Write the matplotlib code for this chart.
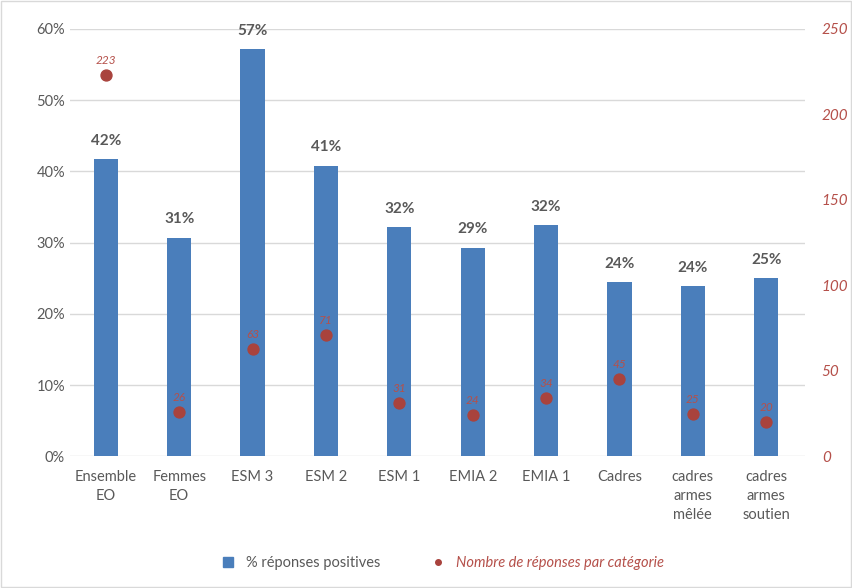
import numpy as np
import matplotlib
matplotlib.use("Agg")
from matplotlib import pyplot as plt
from matplotlib.lines import Line2D
from matplotlib.patches import Rectangle

plt.rcParams['font.family'] = ['Lato', 'DejaVu Sans']

# data
categories = ["Ensemble\nEO", "Femmes\nEO", "ESM 3", "ESM 2", "ESM 1", "EMIA 2",
              "EMIA 1", "Cadres", "cadres\narmes\nmêlée", "cadres\narmes\nsoutien"]
pct = [41.7, 30.7, 57.1, 40.8, 32.2, 29.3, 32.4, 24.4, 23.9, 25.0]
pct_labels = ["42%", "31%", "57%", "41%", "32%", "29%", "32%", "24%", "24%", "25%"]
counts = [223, 26, 63, 71, 31, 24, 34, 45, 25, 20]

bar_col = "#4A7EBB"
pt_col = "#A9433D"
red_txt = "#B5504A"
gray_txt = "#595959"

fig = plt.figure(figsize=(8.52, 5.88), dpi=100)
ax = fig.add_axes([0.082, 0.224, 0.863, 0.727])
x = np.arange(len(categories))

ax.bar(x, pct, width=0.33, color=bar_col, zorder=2)
for xi, v, lab in zip(x, pct, pct_labels):
    ax.annotate(lab, (xi, v), xytext=(0, 8), textcoords="offset points",
                ha="center", va="bottom", fontsize=11, fontweight="bold", color=gray_txt)

ax.set_ylim(0, 60)
ax.set_xlim(-0.49, 9.53)
ax.set_yticks(np.arange(0, 61, 10))
ax.set_yticklabels([f"{v}%" for v in range(0, 61, 10)])
ax.grid(axis="y", color="#D9D9D9", linewidth=1, zorder=0)
ax.set_xticks(x)
ax.set_xticklabels(categories, fontsize=10.5, color=gray_txt, linespacing=1.45)
ax.tick_params(axis="both", length=0, labelcolor=gray_txt, labelsize=10.5)
ax.tick_params(axis="x", pad=10)
for s in ax.spines.values():
    s.set_visible(False)

ax2 = ax.twinx()
ax2.scatter(x, counts, s=62, color=pt_col, zorder=3)
for xi, c in zip(x, counts):
    ax2.annotate(str(c), (xi, c), xytext=(0, 6.5), textcoords="offset points",
                 ha="center", va="bottom", fontsize=8.5, style="italic", color=red_txt)
ax2.set_ylim(0, 250)
ax2.set_yticks(np.arange(0, 251, 50))
ax2.tick_params(axis="y", length=0, labelcolor=red_txt, labelsize=11, pad=12)
for t in ax2.get_yticklabels():
    t.set_style("italic")
for s in ax2.spines.values():
    s.set_visible(False)

handles = [Line2D([], [], marker="s", linestyle="", color=bar_col, markersize=7),
           Line2D([], [], marker="o", linestyle="", color=pt_col, markersize=4)]
leg = fig.legend(handles, ["% réponses positives", "Nombre de réponses par catégorie"],
                 loc="center", bbox_to_anchor=(0.515, 0.043), ncol=2, frameon=False,
                 fontsize=10.5, handletextpad=0.2, columnspacing=3.0)
leg.get_texts()[0].set_color(gray_txt)
leg.get_texts()[1].set_color(red_txt)
leg.get_texts()[1].set_style("italic")

fig.patches.append(Rectangle((0.001, 0.001), 0.998, 0.998, transform=fig.transFigure,
                             fill=False, edgecolor="#D9D9D9", linewidth=1))

fig.savefig("out.png", dpi=100)
